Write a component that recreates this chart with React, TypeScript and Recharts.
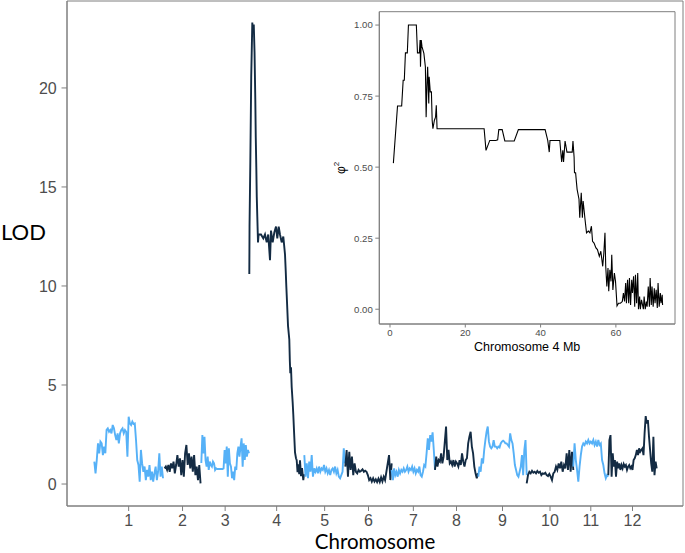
import React from 'react';
import { LineChart, Line, XAxis, YAxis, ReferenceArea, Label } from 'recharts';

// ---------- main genome scan ----------
const chromosomes = ['1', '2', '3', '4', '5', '6', '7', '8', '9', '10', '11', '12'];
const chrStartMb = [0, 91.3, 139.1, 201.5, 273, 326.3, 386.6, 442.9, 499.2, 562.1, 622.7, 668.2];
const chrLengthMb = [89.3, 46.8, 62, 71.1, 52.9, 60.3, 56.3, 55.9, 62.9, 60.6, 45.5, 62.9];

const lodChr1 = [1.13, 0.54, 1.21, 2.05, 1.55, 2.14, 2.05, 1.46, 1.89, 1.55, 2.73, 2.81, 2.64, 2.73, 2.56, 2.98, 2.81, 2.47, 2.22, 2.56, 2.05, 2.56, 2.73, 2.81, 2.56, 2.73, 2.64, 1.38, 3.4, 3.06, 2.98, 3.15, 3.03, 3.06, 2.22, 1.21, 0.96, 0.12, 1.72, 1.04, 0.62, 0.88, 0.2, 0.71, 0.37, 0.96, 0.2, 0.62, 0.12, 0.54, 0.88, 0.2, 0.62, 1.55, 0.37, 0.88, 0.29];
const lodChr2 = [0.79, 0.88, 0.71, 0.96, 0.62, 1.04, 0.79, 1.13, 0.54, 0.96, 1.46, 0.88, 1.3, 0.45, 1.21, 0.37, 1.55, 1.97, 0.96, 1.55, 0.79, 1.38, 0.62, 1.46, 0.45, 0.88, 0.2, 0.96, 0.03];
const lodChr3 = [1.06, 2.47, 1.55, 2.39, 1.21, 0.88, 1.38, 0.71, 1.13, 0.96, 0.88, 1.13, 1.04, 0.71, 0.79, 0.76, 0.76, 0.76, 0.76, 0.76, 0.76, 0.79, 1.72, 1.04, 1.89, 0.37, 1.8, 1.04, 0.88, 0.29, 0.62, 0.2, 0.88, 0.71, 1.55, 1.89, 1.38, 1.89, 2.31, 0.88, 2.05, 1.21, 1.97, 1.38, 1.72, 1.55];
const chr4PosMb = [0, 0.3, 1.3, 2.5, 3.9, 4.8, 5.8, 6.8, 7.8, 8.4, 9.1, 9.7, 10.4, 11.3, 12.1, 15.2, 18.2, 20.4, 22.6, 24.6, 26.9, 28.2, 30.4, 32.5, 34.7, 36.4, 38.2, 39.9, 42.1, 44.2, 46.4, 47.3, 48.1, 49.0, 50.3, 52.0, 52.7, 53.3, 54.2, 55.1, 56.4, 57.2, 58.1, 59.4, 60.7, 61.6, 62.7, 63.7, 64.9, 65.9, 67.2, 68.5, 70.2, 71.1];
const lodChr4 = [10.6, 13.0, 16.2, 20.6, 23.3, 22.8, 23.2, 21.8, 19.4, 17.5, 16.0, 14.5, 13.5, 12.2, 12.6, 12.6, 12.4, 12.6, 12.2, 12.6, 11.3, 12.8, 12.2, 12.7, 13.0, 12.4, 13.0, 12.6, 12.2, 12.5, 11.6, 10.8, 10.0, 9.2, 8.0, 7.3, 6.2, 5.6, 5.9, 4.9, 4.1, 3.5, 2.7, 1.6, 1.3, 1.2, 0.6, 1.0, 0.5, 1.2, 0.4, 0.8, 0.2, 0.5];
const lodChr5 = [1.46, 0.37, 1.04, 0.29, 1.13, 0.62, 1.46, 0.37, 0.79, 0.62, 0.79, 0.54, 0.88, 0.62, 0.79, 0.71, 0.96, 0.62, 0.79, 0.54, 0.71, 0.45, 0.71, 0.79, 0.62, 0.88, 0.54, 0.71, 0.37, 0.29, 0.45, 0.62, 1.8, 1.04];
const lodChr6 = [0.88, 1.72, 0.37, 1.63, 0.71, 1.38, 0.45, 1.04, 0.62, 0.54, 0.71, 0.62, 0.67, 0.74, 0.62, 0.67, 0.62, 0.45, 0.2, 0.29, 0.12, 0.29, 0.12, 0.24, 0.1, 0.27, 0.1, 0.34, 0.13, 0.37, 0.2, 0.62, 1.04, 1.46, 0.2, 1.04];
const lodChr7 = [0.71, 0.2, 0.79, 0.45, 0.62, 0.37, 0.71, 0.54, 0.71, 0.62, 0.79, 0.62, 0.71, 0.88, 0.62, 0.79, 0.71, 0.88, 0.62, 0.79, 0.54, 0.71, 0.62, 0.88, 0.45, 0.37, 0.62, 0.96, 0.88, 1.55, 2.31, 1.72, 2.47, 2.14, 2.61, 1.72, 0.71];
const lodChr8 = [0.71, 1.38, 0.88, 1.21, 1.13, 1.55, 1.04, 1.38, 2.14, 2.9, 1.21, 1.72, 1.04, 1.13, 0.96, 1.21, 0.88, 1.13, 1.04, 0.88, 1.21, 0.96, 1.55, 1.13, 0.88, 1.21, 1.3, 2.05, 2.39, 2.64, 1.89, 1.55, 0.88, 0.54, 0.29, 0.54];
const lodChr9 = [0.37, 0.88, 0.62, 1.3, 1.04, 1.72, 2.22, 2.64, 2.9, 2.14, 1.89, 1.8, 1.89, 2.22, 1.89, 1.89, 1.8, 1.89, 1.85, 2.05, 2.14, 2.19, 2.14, 2.05, 2.05, 1.97, 1.89, 2.56, 2.22, 2.05, 1.55, 0.96, 0.71, 0.45, 0.37, 0.62, 0.88, 1.46, 0.45, 1.72, 2.22, 0.45];
const lodChr10 = [0.03, 0.45, 0.62, 0.54, 0.67, 0.57, 0.62, 0.54, 0.66, 0.57, 0.62, 0.45, 0.54, 0.51, 0.57, 0.45, 0.4, 0.51, 0.37, 0.2, 0.54, 0.62, 0.88, 0.71, 1.04, 0.79, 1.13, 0.62, 0.96, 0.79, 1.55, 0.71, 1.72, 0.62, 1.63, 0.71];
const lodChr11 = [0.88, 2.05, 1.21, 0.71, 0.12, 0.88, 1.46, 1.89, 2.05, 1.97, 2.14, 2.05, 2.22, 2.05, 2.14, 2.05, 2.22, 1.97, 2.14, 1.89, 2.22, 1.97, 2.05, 1.21, 0.96, 0.54, 0.29, 0.45, 0.37];
const lodChr12 = [0.45, 2.22, 2.47, 0.37, 1.55, 0.88, 1.21, 0.37, 1.13, 0.79, 1.04, 0.71, 0.96, 0.79, 1.01, 0.88, 0.96, 0.71, 0.88, 0.96, 0.79, 0.88, 0.71, 1.21, 1.3, 1.46, 1.72, 1.46, 1.8, 1.63, 1.72, 1.8, 1.46, 2.56, 3.43, 3.06, 3.23, 2.39, 1.72, 1.04, 0.62, 2.39, 0.45, 1.13, 0.79];

const lodByChr = [lodChr1, lodChr2, lodChr3, lodChr4, lodChr5, lodChr6, lodChr7, lodChr8, lodChr9, lodChr10, lodChr11, lodChr12];
const yTicksMain = [0, 5, 10, 15, 20];

// ---------- inset: chromosome 4 ----------
const insetMb = [0.9, 2.0, 3.1, 3.5, 3.8, 4.1, 4.6, 4.9, 7.0, 7.3, 7.8, 8.0, 8.1, 8.3, 8.5, 9.0, 9.4, 9.6, 9.8, 10.0, 10.3, 10.4, 10.7, 11.0, 11.2, 11.4, 11.8, 12.1, 12.3, 12.5, 25.0, 25.5, 26.5, 28.1, 28.6, 28.9, 29.8, 30.5, 33.0, 34.1, 41.2, 41.9, 42.3, 42.5, 45.1, 45.6, 45.9, 46.1, 46.5, 47.0, 48.4, 48.6, 48.9, 49.0, 49.3, 49.5, 49.7, 50.2, 50.4, 50.8, 51.1, 51.3, 51.8, 52.2, 52.7, 53.1, 53.5, 53.8, 54.2, 54.7, 55.1, 55.6, 56.0, 56.5, 56.8, 57.1, 57.3, 57.6, 57.9, 58.1, 58.4, 58.7, 58.9, 59.2, 59.6, 59.9, 60.3, 60.7, 61.2, 61.7, 62.0, 62.3, 62.6, 62.8, 63.1, 63.4, 63.6, 63.9, 64.2, 64.4, 64.7, 65.0, 65.2, 65.5, 65.8, 66.0, 66.3, 66.5, 66.8, 67.3, 67.5, 67.8, 68.1, 68.3, 68.6, 68.9, 69.1, 69.4, 69.6, 69.9, 70.2, 70.4, 70.7, 71.0, 71.2, 71.5, 71.8, 72.0, 72.3, 72.4];
const insetPhi2 = [0.514, 0.715, 0.715, 0.806, 0.806, 0.902, 0.902, 1.0, 1.0, 0.902, 0.902, 0.947, 0.853, 0.947, 0.924, 0.9, 0.853, 0.676, 0.782, 0.853, 0.724, 0.818, 0.765, 0.765, 0.665, 0.635, 0.665, 0.676, 0.718, 0.635, 0.635, 0.559, 0.594, 0.594, 0.596, 0.632, 0.632, 0.592, 0.592, 0.632, 0.632, 0.594, 0.553, 0.594, 0.594, 0.518, 0.559, 0.518, 0.592, 0.553, 0.553, 0.592, 0.535, 0.48, 0.48, 0.45, 0.422, 0.387, 0.322, 0.41, 0.322, 0.381, 0.316, 0.269, 0.275, 0.269, 0.292, 0.239, 0.233, 0.216, 0.21, 0.186, 0.204, 0.151, 0.198, 0.269, 0.151, 0.08, 0.145, 0.063, 0.139, 0.098, 0.192, 0.068, 0.127, 0.098, 0.012, 0.021, 0.021, 0.027, 0.057, 0.027, 0.092, 0.021, 0.104, 0.021, 0.11, 0.015, 0.104, 0.057, 0.116, 0.009, 0.121, 0.021, 0.127, 0.0, 0.045, 0.0, 0.033, 0.0, 0.045, 0.0, 0.027, 0.009, 0.08, 0.009, 0.11, 0.015, 0.08, 0.009, 0.074, 0.021, 0.068, 0.004, 0.092, 0.009, 0.057, 0.021, 0.051, 0.015];
const insetXTicks = [0, 20, 40, 60];
const insetYTicks = [0, 0.25, 0.5, 0.75, 1];

// ---------- derived tables ----------
const chrTickMb = chrStartMb.map((s, i) => s + chrLengthMb[i] / 2);
const series = lodByChr.map((vals, i) => {
  const pts = vals.map((v, j) => ({
    pos: chrStartMb[i] + (i === 3 ? chr4PosMb[j] : (j * chrLengthMb[i]) / (vals.length - 1)),
    lod: v,
  }));
  return { name: chromosomes[i], color: i % 2 === 0 ? '#56B1F7' : '#132B43', data: pts };
});
const insetData = insetMb.map((m, i) => ({ mb: m, phi: insetPhi2[i] }));

const X_DOMAIN: [number, number] = [-35.5, 765.3];
const Y_DOMAIN: [number, number] = [-1.11, 24.39];
const IX_DOMAIN: [number, number] = [-2.84, 75.7];
const IY_DOMAIN: [number, number] = [-0.052, 1.047];

const FRAME = '#7f7f7f';
const TICK = '#4d4d4d';
const SANS = 'Liberation Sans, Arial, sans-serif';
const TITLE_FONT = 'Lato, Open Sans, sans-serif';

const chrLabel = (v: number) => {
  let best = 0;
  chrTickMb.forEach((t, i) => {
    if (Math.abs(t - v) < Math.abs(chrTickMb[best] - v)) best = i;
  });
  return chromosomes[best];
};

export default function App() {
  return (
    <div style={{ position: 'absolute', left: 0, top: 0, width: 685, height: 553, background: '#fff', fontFamily: SANS }}>
      <LineChart width={685} height={553} margin={{ top: 1, right: 2, bottom: 0, left: 0 }}>
        <XAxis
          type="number"
          dataKey="pos"
          domain={X_DOMAIN}
          allowDataOverflow
          ticks={chrTickMb}
          tickFormatter={chrLabel}
          interval={0}
          height={47}
          tickSize={5}
          tickMargin={3.5}
          stroke={FRAME}
          tick={{ fill: TICK, fontSize: 16, fontFamily: SANS }}
        >
          <Label value="Chromosome" position="insideBottom" offset={4.5} fill="#000" fontSize={20.5} fontFamily={TITLE_FONT} />
        </XAxis>
        <YAxis
          type="number"
          domain={Y_DOMAIN}
          allowDataOverflow
          ticks={yTicksMain}
          interval={0}
          width={67}
          tickSize={5.5}
          tickMargin={4.8}
          stroke={FRAME}
          tick={{ fill: TICK, fontSize: 16, fontFamily: SANS }}
        >
          <Label
            content={() => (
              <text x={1} y={240} fill="#000" fontSize={22} fontFamily={TITLE_FONT}>
                LOD
              </text>
            )}
          />
        </YAxis>
        <ReferenceArea x1={X_DOMAIN[0]} x2={X_DOMAIN[1]} y1={Y_DOMAIN[0]} y2={Y_DOMAIN[1]} fill="none" stroke={FRAME} strokeWidth={1} ifOverflow="visible" />
        {series.map((s) => (
          <Line
            key={s.name}
            data={s.data}
            dataKey="lod"
            type="linear"
            stroke={s.color}
            strokeWidth={1.9}
            dot={false}
            isAnimationActive={false}
          />
        ))}
      </LineChart>

      <div style={{ position: 'absolute', left: 330, top: 5 }}>
        <LineChart width={350} height={355} data={insetData} margin={{ top: 6.7, right: 5, bottom: 0, left: 0 }}>
          <XAxis
            type="number"
            dataKey="mb"
            domain={IX_DOMAIN}
            allowDataOverflow
            ticks={insetXTicks}
            interval={0}
            height={36}
            tickSize={3.5}
            tickMargin={2}
            stroke={FRAME}
            tick={{ fill: TICK, fontSize: 9.6, fontFamily: SANS }}
          >
            <Label value="Chromosome 4 Mb" position="insideBottom" offset={9.5} fill="#000" fontSize={12.5} fontFamily={SANS} />
          </XAxis>
          <YAxis
            type="number"
            domain={IY_DOMAIN}
            allowDataOverflow
            ticks={insetYTicks}
            interval={0}
            width={49.3}
            tickSize={4}
            tickMargin={2.5}
            stroke={FRAME}
            tickFormatter={(v: number) => v.toFixed(2)}
            tick={{ fill: TICK, fontSize: 9.6, fontFamily: SANS }}
          >
            <Label
              content={(p: any) => {
                const vb = p.viewBox || { x: 0, y: 0, height: 0 };
                const cx = vb.x + 11;
                const cy = vb.y + vb.height / 2;
                return (
                  <text x={cx} y={cy} transform={`rotate(-90 ${cx} ${cy})`} textAnchor="middle" dominantBaseline="central" fill="#000" fontSize={12} fontFamily={SANS}>
                    φ<tspan dy={-5} fontSize={8}>2</tspan>
                  </text>
                );
              }}
            />
          </YAxis>
          <ReferenceArea x1={IX_DOMAIN[0]} x2={IX_DOMAIN[1]} y1={IY_DOMAIN[0]} y2={IY_DOMAIN[1]} fill="none" stroke={FRAME} strokeWidth={1} ifOverflow="visible" />
          <Line dataKey="phi" type="linear" stroke="#000" strokeWidth={1.1} dot={false} isAnimationActive={false} />
        </LineChart>
      </div>
    </div>
  );
}
